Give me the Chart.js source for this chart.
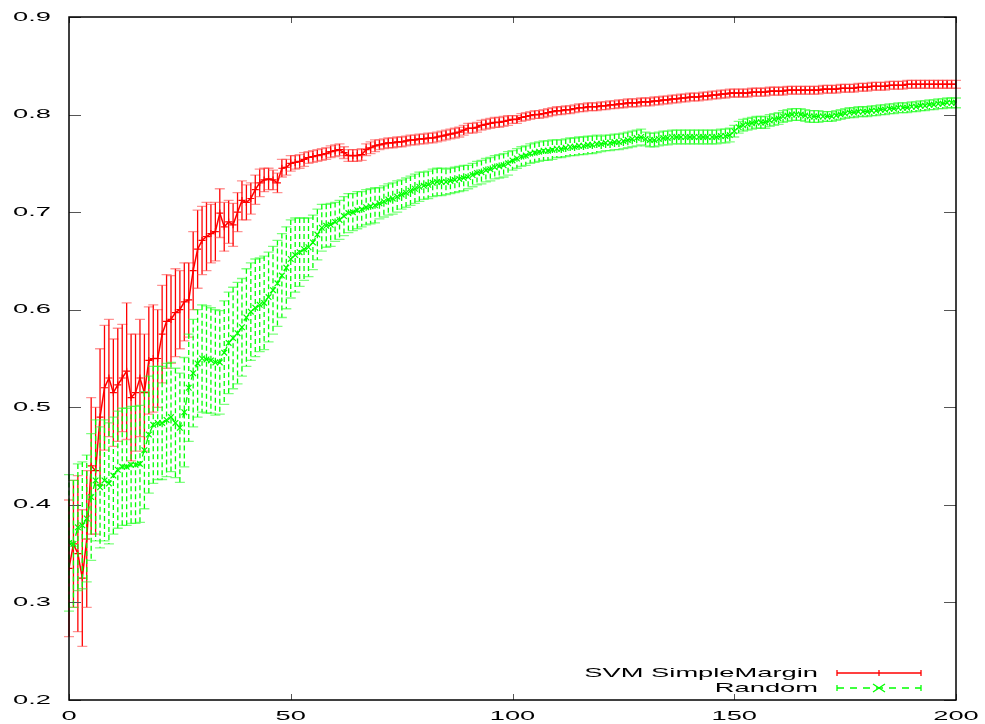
<!DOCTYPE html>
<html>
<head>
<meta charset="utf-8">
<script src="https://cdn.jsdelivr.net/npm/chart.js@4"></script>
<style>
  body { margin: 0; background: #fff; }
  canvas { display: block; }
</style>
</head>
<body>
<canvas id="mychart" width="985" height="724"></canvas>
<script>
// number of queried examples, 0..200
const steps = Array.from({ length: 201 }, (_, i) => i);

const svmMean = [
  0.335, 0.36, 0.35, 0.325, 0.365, 0.44, 0.435, 0.49, 0.52, 0.53,
  0.515, 0.523, 0.53, 0.537, 0.51, 0.515, 0.53, 0.515, 0.548, 0.55,
  0.55, 0.575, 0.588, 0.59, 0.597, 0.6, 0.608, 0.61, 0.64, 0.662,
  0.671, 0.675, 0.678, 0.68, 0.699, 0.685, 0.69, 0.687, 0.7, 0.712,
  0.71, 0.714, 0.723, 0.73, 0.733, 0.734, 0.733, 0.73, 0.745, 0.746,
  0.75, 0.751, 0.752, 0.754, 0.756, 0.757, 0.758, 0.759, 0.76, 0.762,
  0.763, 0.764, 0.761, 0.758, 0.758, 0.758, 0.759, 0.764, 0.766, 0.768,
  0.769, 0.77, 0.771, 0.771, 0.772, 0.772, 0.773, 0.774, 0.774, 0.775,
  0.775, 0.776, 0.776, 0.777, 0.778, 0.779, 0.78, 0.781, 0.782, 0.784,
  0.786, 0.786, 0.787, 0.789, 0.79, 0.791, 0.792, 0.792, 0.793, 0.794,
  0.795, 0.795, 0.797, 0.798, 0.799, 0.8, 0.8, 0.801, 0.802, 0.803,
  0.804, 0.804, 0.805, 0.805, 0.806, 0.807, 0.807, 0.808, 0.808, 0.808,
  0.809, 0.809, 0.81, 0.81, 0.811, 0.811, 0.812, 0.812, 0.812, 0.813,
  0.813, 0.813, 0.814, 0.814, 0.815, 0.815, 0.816, 0.816, 0.817, 0.817,
  0.818, 0.818, 0.818, 0.819, 0.819, 0.82, 0.82, 0.821, 0.821, 0.822,
  0.822, 0.822, 0.822, 0.822, 0.823, 0.823, 0.823, 0.823, 0.824, 0.824,
  0.824, 0.824, 0.825, 0.825, 0.825, 0.825, 0.825, 0.825, 0.825, 0.825,
  0.826, 0.826, 0.826, 0.826, 0.827, 0.827, 0.827, 0.827, 0.828, 0.828,
  0.828, 0.829, 0.829, 0.829, 0.829, 0.83, 0.83, 0.83, 0.83, 0.831,
  0.831, 0.831, 0.831, 0.831, 0.831, 0.831, 0.831, 0.831, 0.831, 0.831,
  0.831
];
const svmErr = [
  0.07, 0.065, 0.08, 0.07, 0.07, 0.07, 0.065, 0.07, 0.064, 0.06,
  0.055, 0.058, 0.055, 0.07, 0.065, 0.06, 0.06, 0.06, 0.055, 0.055,
  0.05, 0.05, 0.048, 0.045, 0.045, 0.04, 0.04, 0.038, 0.04, 0.04,
  0.035, 0.035, 0.03, 0.03, 0.025, 0.025, 0.022, 0.022, 0.02, 0.02,
  0.018, 0.016, 0.015, 0.014, 0.012, 0.011, 0.01, 0.01, 0.009, 0.008,
  0.008, 0.007, 0.007, 0.007, 0.006, 0.006, 0.006, 0.006, 0.006, 0.006,
  0.006, 0.006, 0.006, 0.006, 0.006, 0.006, 0.006, 0.006, 0.006, 0.006,
  0.005, 0.005, 0.005, 0.005, 0.005, 0.005, 0.005, 0.005, 0.005, 0.005,
  0.005, 0.005, 0.005, 0.005, 0.005, 0.005, 0.005, 0.005, 0.005, 0.005,
  0.005, 0.005, 0.005, 0.005, 0.005, 0.005, 0.005, 0.005, 0.005, 0.005,
  0.004, 0.004, 0.004, 0.004, 0.004, 0.004, 0.004, 0.004, 0.004, 0.004,
  0.004, 0.004, 0.004, 0.004, 0.004, 0.004, 0.004, 0.004, 0.004, 0.004,
  0.004, 0.004, 0.004, 0.004, 0.004, 0.004, 0.004, 0.004, 0.004, 0.004,
  0.004, 0.004, 0.004, 0.004, 0.004, 0.004, 0.004, 0.004, 0.004, 0.004,
  0.004, 0.004, 0.004, 0.004, 0.004, 0.004, 0.004, 0.004, 0.004, 0.004,
  0.004, 0.004, 0.004, 0.004, 0.004, 0.004, 0.004, 0.004, 0.004, 0.004,
  0.004, 0.004, 0.004, 0.004, 0.004, 0.004, 0.004, 0.004, 0.004, 0.004,
  0.004, 0.004, 0.004, 0.004, 0.004, 0.004, 0.004, 0.004, 0.004, 0.004,
  0.004, 0.004, 0.004, 0.004, 0.004, 0.004, 0.004, 0.004, 0.004, 0.004,
  0.004, 0.004, 0.004, 0.004, 0.004, 0.004, 0.004, 0.004, 0.004, 0.004,
  0.004
];

const randomMean = [
  0.361, 0.36, 0.377, 0.379, 0.386, 0.408, 0.425, 0.418, 0.425, 0.422,
  0.43, 0.436, 0.439, 0.439, 0.441, 0.441, 0.442, 0.456, 0.472, 0.482,
  0.484, 0.484, 0.487, 0.49, 0.484, 0.479, 0.495, 0.52, 0.535, 0.545,
  0.55, 0.549, 0.548, 0.546, 0.546, 0.556, 0.566, 0.571, 0.576, 0.582,
  0.592, 0.598, 0.602, 0.605, 0.607, 0.613, 0.62, 0.627, 0.635, 0.643,
  0.652, 0.656, 0.659, 0.662, 0.664, 0.669, 0.677, 0.684, 0.686, 0.687,
  0.69, 0.692, 0.696, 0.699, 0.7, 0.702, 0.703, 0.705, 0.706, 0.707,
  0.709, 0.711, 0.713, 0.714, 0.716, 0.718, 0.72, 0.722, 0.724, 0.726,
  0.727, 0.728, 0.73, 0.731, 0.731, 0.731, 0.732, 0.733, 0.734, 0.735,
  0.736, 0.738, 0.74, 0.741, 0.743, 0.744, 0.746, 0.747, 0.748, 0.75,
  0.753, 0.755, 0.757, 0.758, 0.76, 0.761, 0.762, 0.763, 0.763, 0.764,
  0.765, 0.765, 0.766, 0.767, 0.767, 0.768, 0.768, 0.769, 0.769, 0.77,
  0.77, 0.771, 0.771, 0.772, 0.772, 0.773, 0.774, 0.775, 0.776, 0.777,
  0.775, 0.774, 0.774, 0.775, 0.776, 0.776, 0.777, 0.777, 0.777, 0.777,
  0.777, 0.777, 0.777, 0.777, 0.777, 0.777, 0.777, 0.778, 0.778, 0.779,
  0.783, 0.787, 0.789, 0.79, 0.791, 0.792, 0.792, 0.792, 0.794, 0.795,
  0.796, 0.798, 0.799, 0.8, 0.8, 0.8, 0.799, 0.798, 0.798, 0.798,
  0.798, 0.798, 0.798, 0.799, 0.8, 0.801, 0.802, 0.802, 0.803, 0.803,
  0.803, 0.804, 0.804, 0.805, 0.805, 0.806, 0.806, 0.807, 0.807, 0.807,
  0.808, 0.808, 0.809, 0.809, 0.81, 0.81, 0.811, 0.811, 0.812, 0.812,
  0.812
];
const randomErr = [
  0.07, 0.065, 0.065, 0.065, 0.065, 0.065, 0.062, 0.062, 0.062, 0.062,
  0.06, 0.06, 0.06, 0.06, 0.06, 0.06, 0.06, 0.06, 0.06, 0.06,
  0.058, 0.058, 0.058, 0.056, 0.056, 0.056, 0.056, 0.055, 0.055, 0.055,
  0.055, 0.055, 0.054, 0.054, 0.053, 0.053, 0.052, 0.052, 0.052, 0.05,
  0.05, 0.05, 0.05, 0.048, 0.048, 0.046, 0.045, 0.044, 0.043, 0.042,
  0.04, 0.038, 0.035, 0.032, 0.03, 0.028, 0.026, 0.024, 0.022, 0.022,
  0.02, 0.02, 0.02, 0.02, 0.019, 0.019, 0.018, 0.018, 0.018, 0.018,
  0.016, 0.016, 0.016, 0.016, 0.016, 0.015, 0.015, 0.015, 0.015, 0.015,
  0.014, 0.014, 0.014, 0.014, 0.014, 0.013, 0.013, 0.013, 0.013, 0.013,
  0.012, 0.012, 0.012, 0.012, 0.012, 0.012, 0.012, 0.012, 0.012, 0.012,
  0.01, 0.01, 0.01, 0.01, 0.01, 0.01, 0.01, 0.01, 0.01, 0.01,
  0.009, 0.009, 0.009, 0.009, 0.009, 0.009, 0.009, 0.009, 0.009, 0.009,
  0.008, 0.008, 0.008, 0.008, 0.008, 0.008, 0.008, 0.008, 0.008, 0.008,
  0.007, 0.007, 0.007, 0.007, 0.007, 0.007, 0.007, 0.007, 0.007, 0.007,
  0.007, 0.007, 0.007, 0.007, 0.007, 0.007, 0.007, 0.007, 0.007, 0.007,
  0.006, 0.006, 0.006, 0.006, 0.006, 0.006, 0.006, 0.006, 0.006, 0.006,
  0.006, 0.006, 0.006, 0.006, 0.006, 0.006, 0.006, 0.006, 0.006, 0.006,
  0.005, 0.005, 0.005, 0.005, 0.005, 0.005, 0.005, 0.005, 0.005, 0.005,
  0.005, 0.005, 0.005, 0.005, 0.005, 0.005, 0.005, 0.005, 0.005, 0.005,
  0.005, 0.005, 0.005, 0.005, 0.005, 0.005, 0.005, 0.005, 0.005, 0.005,
  0.005
];

const xTicks = [0, 50, 100, 150, 200];
const yTicks = [0.2, 0.3, 0.4, 0.5, 0.6, 0.7, 0.8, 0.9];
const yTickLabels = ["0.2", "0.3", "0.4", "0.5", "0.6", "0.7", "0.8", "0.9"];
const seriesNames = ["SVM SimpleMargin", "Random"];

const RED = "#ff0000";
const GREEN = "#00ff00";
const FONT = "13px 'Liberation Sans', Arial, sans-serif";
const STRETCH = 2.1; // the old gnuplot png is stretched sideways

function wideText(ctx, str, x, y, align) {
  ctx.save();
  ctx.translate(x, y);
  ctx.scale(STRETCH, 1);
  ctx.textAlign = align;
  ctx.textBaseline = "middle";
  ctx.fillText(str, 0, 0);
  ctx.restore();
}

// error bars, drawn right after each line so stacking matches gnuplot
const errorBars = {
  id: "errorBars",
  afterDatasetDraw(chart, args) {
    const ds = chart.data.datasets[args.index];
    if (!ds.err) return;
    const ctx = chart.ctx;
    const xs = chart.scales.x;
    const ys = chart.scales.y;
    ctx.save();
    ctx.lineWidth = 1.3;
    for (let i = 0; i < ds.data.length; i++) {
      const px = xs.getPixelForValue(steps[i]);
      const top = ys.getPixelForValue(ds.data[i] + ds.err[i]);
      const bot = ys.getPixelForValue(ds.data[i] - ds.err[i]);
      ctx.strokeStyle = ds.borderColor;
      ctx.setLineDash(ds.barDash || []);
      ctx.beginPath();
      ctx.moveTo(px, top);
      ctx.lineTo(px, bot);
      ctx.stroke();
      ctx.setLineDash([]);
      ctx.strokeStyle = ds.capColor;
      ctx.beginPath();
      ctx.moveTo(px - 5, top);
      ctx.lineTo(px + 5, top);
      ctx.moveTo(px - 5, bot);
      ctx.lineTo(px + 5, bot);
      ctx.stroke();
    }
    ctx.restore();
  },
};

// border, inward ticks, labels and key in gnuplot style
const frame = {
  id: "frame",
  afterDraw(chart) {
    const ctx = chart.ctx;
    const a = chart.chartArea;
    const xs = chart.scales.x;
    const ys = chart.scales.y;
    ctx.save();
    ctx.strokeStyle = "#555";
    ctx.lineWidth = 1;
    ctx.beginPath();
    yTicks.forEach((v) => {
      const py = Math.round(ys.getPixelForValue(v)) + 0.5;
      ctx.moveTo(a.left, py); ctx.lineTo(a.left + 12, py);
      ctx.moveTo(a.right, py); ctx.lineTo(a.right - 12, py);
    });
    xTicks.forEach((v) => {
      const px = Math.round(xs.getPixelForValue(v)) + 0.5;
      ctx.moveTo(px, a.bottom); ctx.lineTo(px, a.bottom - 6);
      ctx.moveTo(px, a.top); ctx.lineTo(px, a.top + 6);
    });
    ctx.stroke();

    ctx.strokeStyle = "#000";
    ctx.lineWidth = 1.5;
    ctx.strokeRect(a.left, a.top, a.right - a.left, a.bottom - a.top);

    ctx.fillStyle = "#000";
    ctx.font = FONT;
    yTicks.forEach((v, i) => wideText(ctx, yTickLabels[i], 51, ys.getPixelForValue(v), "right"));
    xTicks.forEach((v) => wideText(ctx, String(v), xs.getPixelForValue(v), 716, "center"));

    // key
    const keys = [
      { y: 673, color: RED, dash: [], mark: "plus" },
      { y: 688, color: GREEN, dash: [7, 6], mark: "x" },
    ];
    keys.forEach((k, i) => {
      ctx.fillStyle = "#000";
      wideText(ctx, seriesNames[i], 818, k.y, "right");
      ctx.strokeStyle = k.color;
      ctx.lineWidth = 1.3;
      ctx.setLineDash(k.dash);
      ctx.beginPath();
      ctx.moveTo(837, k.y); ctx.lineTo(921, k.y);
      ctx.stroke();
      ctx.setLineDash([]);
      ctx.beginPath();
      ctx.moveTo(837, k.y - 3); ctx.lineTo(837, k.y + 3);
      ctx.moveTo(921, k.y - 3); ctx.lineTo(921, k.y + 3);
      if (k.mark === "plus") {
        ctx.moveTo(879, k.y - 3); ctx.lineTo(879, k.y + 3);
      } else {
        ctx.moveTo(873, k.y - 4); ctx.lineTo(885, k.y + 4);
        ctx.moveTo(873, k.y + 4); ctx.lineTo(885, k.y - 4);
      }
      ctx.stroke();
    });
    ctx.restore();
  },
};

const data = {
  labels: steps,
  datasets: [
    {
      label: seriesNames[0],
      data: svmMean,
      err: svmErr,
      borderColor: RED,
      capColor: "rgba(255,60,60,0.55)",
      borderWidth: 1.5,
      pointStyle: "cross",
      pointRadius: 3.5,
      pointBorderWidth: 1.2,
      pointBorderColor: RED,
      tension: 0,
      order: 1,
    },
    {
      label: seriesNames[1],
      data: randomMean,
      err: randomErr,
      borderColor: GREEN,
      capColor: "rgba(40,255,40,0.6)",
      borderWidth: 1.3,
      borderDash: [8, 5],
      barDash: [5, 3],
      pointStyle: "crossRot",
      pointRadius: 4,
      pointBorderWidth: 1.2,
      pointBorderColor: GREEN,
      tension: 0,
      order: 0,
    },
  ],
};

const config = {
  type: "line",
  data: data,
  options: {
    responsive: false,
    animation: false,
    events: [],
    layout: { padding: { left: 69, right: 29, top: 17, bottom: 24 } },
    plugins: { legend: { display: false }, tooltip: { enabled: false } },
    scales: {
      x: { type: "linear", min: 0, max: 200, display: false },
      y: { type: "linear", min: 0.2, max: 0.9, display: false },
    },
  },
  plugins: [errorBars, frame],
};

const mychart = new Chart(document.getElementById("mychart"), config);
</script>
</body>
</html>
